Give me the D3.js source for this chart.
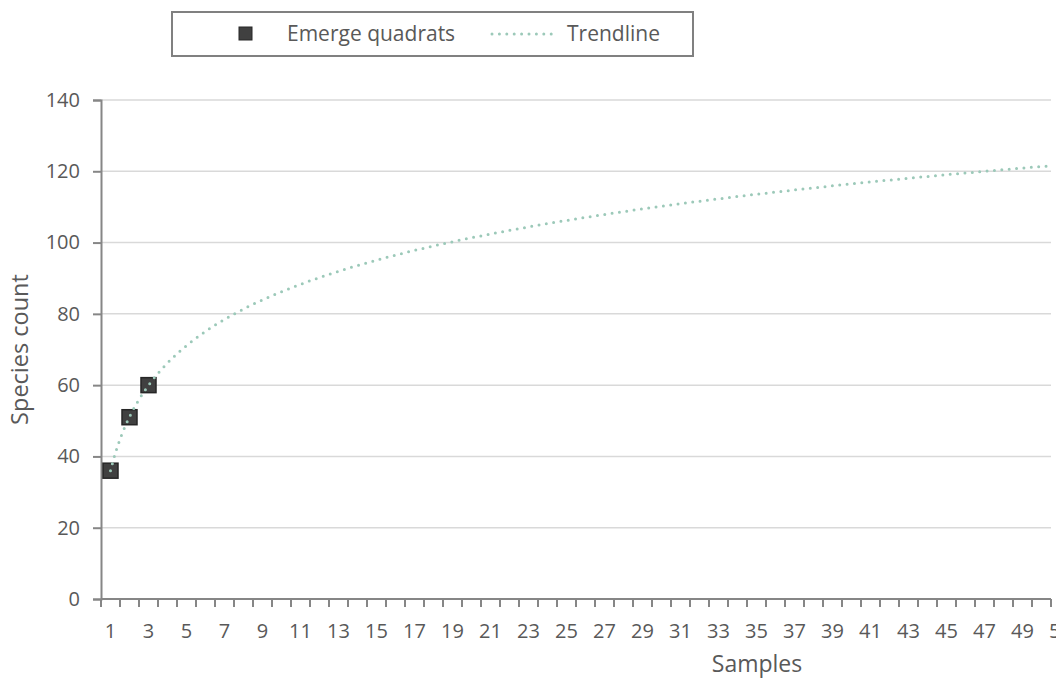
<!DOCTYPE html>
<html>
<head>
<meta charset="utf-8">
<script src="https://cdn.jsdelivr.net/npm/d3@7"></script>
<style>
  html, body { margin: 0; padding: 0; background: #fff; overflow: hidden; }
  svg { display: block; font-family: "Open Sans", "Liberation Sans", sans-serif; }
</style>
</head>
<body>
<svg id="chart" width="1056" height="680"></svg>
<script>
// Observed species counts per sample
const samples = [1, 2, 3];
const speciesCount = [36, 51, 60];

// Axis ticks
const yTicks = [0, 20, 40, 60, 80, 100, 120, 140];
const xCategories = d3.range(1, 51);          // sample slots along the category axis
const xLabels = d3.range(1, 52, 2);

const seriesName = "Emerge quadrats";
const trendName = "Trendline";

const svg = d3.select("#chart");
const plotLeft = 101, plotBottom = 599, plotTop = 100, step = 19;

const x = d3.scaleLinear()
  .domain([0.5, xCategories.length + 0.5])
  .range([plotLeft, plotLeft + xCategories.length * step]);
const y = d3.scaleLinear().domain([0, 140]).range([plotBottom, plotTop]);
const plotRight = x.range()[1];

const textColor = "#595959";
const axisColor = "#868686";

// Gridlines
svg.append("g").selectAll("line")
  .data(yTicks.filter(d => d > 0))
  .join("line")
  .attr("x1", plotLeft).attr("x2", plotRight)
  .attr("y1", d => y(d)).attr("y2", d => y(d))
  .attr("stroke", "#d9d9d9").attr("stroke-width", 1.5);

// Y axis
const yAxis = svg.append("g")
  .attr("transform", `translate(${plotLeft},0)`)
  .call(d3.axisLeft(y).tickValues(yTicks).tickSize(8).tickPadding(13));
yAxis.select(".domain").attr("stroke", axisColor).attr("stroke-width", 2);
yAxis.selectAll(".tick line").attr("stroke", axisColor).attr("stroke-width", 2);
yAxis.selectAll(".tick text").attr("fill", textColor).attr("font-size", 20)
  .attr("font-family", "Open Sans");

// X axis: tick marks on category boundaries, labels centered on odd categories
const xAxis = svg.append("g").attr("transform", `translate(0,${plotBottom})`);
xAxis.append("line")
  .attr("x1", plotLeft).attr("x2", plotRight)
  .attr("stroke", axisColor).attr("stroke-width", 2);
xAxis.selectAll("line.tick")
  .data(d3.range(0, xCategories.length + 1))
  .join("line").attr("class", "tick")
  .attr("x1", d => x(d + 0.5)).attr("x2", d => x(d + 0.5))
  .attr("y1", 0).attr("y2", 8)
  .attr("stroke", axisColor).attr("stroke-width", 2);
xAxis.selectAll("text")
  .data(xLabels)
  .join("text")
  .attr("x", d => x(d)).attr("y", 39)
  .attr("text-anchor", "middle")
  .attr("fill", textColor).attr("font-size", 20)
  .text(d => d);

// Axis titles
svg.append("text")
  .attr("transform", `translate(28,${(plotTop + plotBottom) / 2}) rotate(-90)`)
  .attr("text-anchor", "middle")
  .attr("fill", textColor).attr("font-size", 23.5)
  .text("Species count");
svg.append("text")
  .attr("x", 757).attr("y", 672)
  .attr("text-anchor", "middle")
  .attr("fill", textColor).attr("font-size", 23)
  .text("Samples");

// Logarithmic least-squares trendline: y = a*ln(x) + b
const lx = samples.map(Math.log);
const mx = d3.mean(lx), my = d3.mean(speciesCount);
const a = d3.sum(lx, (v, i) => (v - mx) * (speciesCount[i] - my)) /
          d3.sum(lx, v => (v - mx) * (v - mx));
const b = my - a * mx;
const trendX = d3.range(1, xCategories.length + 0.5001, 0.1);
const trendLine = d3.line()
  .x(d => x(d))
  .y(d => y(a * Math.log(d) + b))
  .curve(d3.curveMonotoneX);

const trendColor = "#9cc9b9";

// Data markers
const markers = svg.append("g");
markers.selectAll("rect")
  .data(samples.map((s, i) => [s, speciesCount[i]]))
  .join("rect")
  .attr("x", d => x(d[0]) - 7.5).attr("y", d => y(d[1]) - 7.5)
  .attr("width", 15).attr("height", 15)
  .attr("fill", "#404040")
  .attr("stroke", "#262626").attr("stroke-width", 1.5);

svg.append("path")
  .datum(trendX)
  .attr("d", trendLine)
  .attr("fill", "none")
  .attr("stroke", trendColor)
  .attr("stroke-width", 3)
  .attr("stroke-linecap", "round")
  .attr("stroke-dasharray", "0 7.4");

// Legend
const legend = svg.append("g");
legend.append("rect")
  .attr("x", 172).attr("y", 12).attr("width", 521).attr("height", 44)
  .attr("fill", "#fff").attr("stroke", "#808080").attr("stroke-width", 2);
legend.append("rect")
  .attr("x", 239).attr("y", 27).attr("width", 13).attr("height", 13)
  .attr("fill", "#404040").attr("stroke", "#262626").attr("stroke-width", 1);
legend.append("text")
  .attr("x", 287).attr("y", 41)
  .attr("fill", textColor).attr("font-size", 21)
  .text(seriesName);
legend.append("line")
  .attr("x1", 492).attr("x2", 552).attr("y1", 34).attr("y2", 34)
  .attr("stroke", trendColor).attr("stroke-width", 3)
  .attr("stroke-linecap", "round").attr("stroke-dasharray", "0 7.4");
legend.append("text")
  .attr("x", 567).attr("y", 41)
  .attr("fill", textColor).attr("font-size", 21)
  .text(trendName);
</script>
</body>
</html>
